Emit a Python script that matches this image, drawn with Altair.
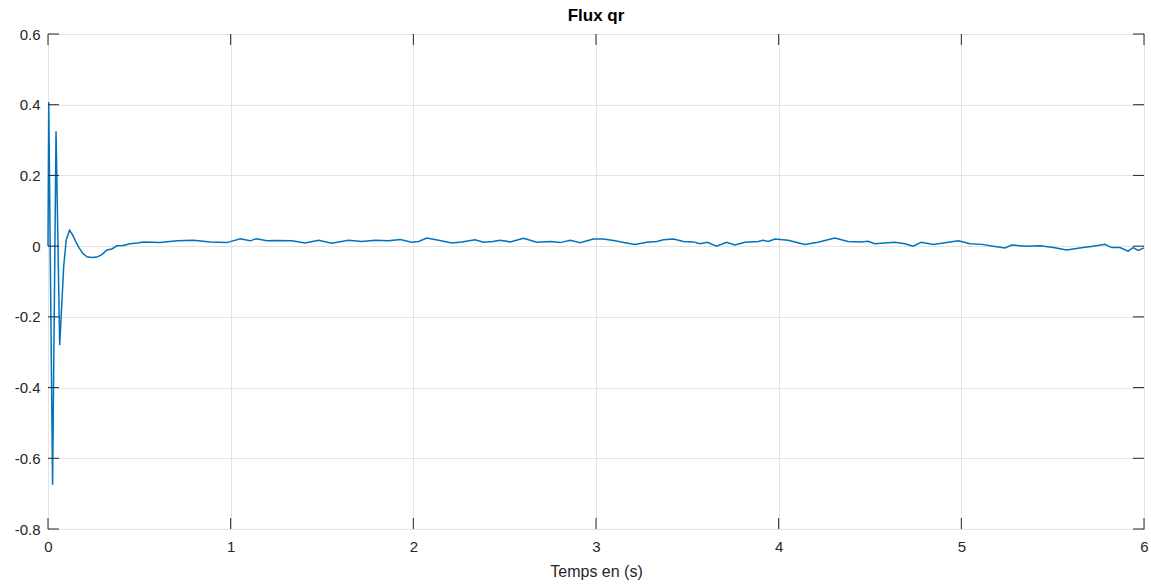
import altair as alt
import pandas as pd

# Rotor flux (q axis) against simulation time
time_s = [
    0.0, 0.004, 0.025, 0.044, 0.064, 0.075, 0.086, 0.1, 0.118, 0.135,
    0.15, 0.17, 0.19, 0.213, 0.24, 0.268, 0.295, 0.323, 0.35, 0.377,
    0.41, 0.45, 0.49, 0.523, 0.614, 0.706, 0.797, 0.888, 0.98, 1.053,
    1.107, 1.14, 1.199, 1.244, 1.335, 1.408, 1.481, 1.554, 1.645, 1.718,
    1.791, 1.864, 1.928, 1.992, 2.028, 2.074, 2.138, 2.211, 2.265, 2.338,
    2.384, 2.435, 2.476, 2.53, 2.603, 2.676, 2.749, 2.804, 2.859, 2.913,
    2.986, 3.041, 3.105, 3.151, 3.214, 3.278, 3.333, 3.369, 3.424, 3.479,
    3.534, 3.57, 3.61, 3.66, 3.715, 3.76, 3.815, 3.888, 3.915, 3.943,
    3.979, 4.052, 4.143, 4.216, 4.307, 4.38, 4.453, 4.49, 4.526, 4.581,
    4.636, 4.69, 4.736, 4.78, 4.847, 4.902, 4.984, 5.048, 5.111, 5.175,
    5.239, 5.276, 5.357, 5.431, 5.504, 5.576, 5.667, 5.722, 5.786, 5.823,
    5.868, 5.913, 5.941, 5.968, 6.0,
]
flux_qr = [
    0.0, 0.408, -0.675, 0.325, -0.28, -0.17, -0.057, 0.018, 0.045, 0.032,
    0.015, -0.005, -0.02, -0.03, -0.032, -0.031, -0.024, -0.011, -0.008, 0.001,
    0.002, 0.007, 0.009, 0.012, 0.010, 0.015, 0.0165, 0.012, 0.010, 0.021,
    0.015, 0.021, 0.015, 0.016, 0.015, 0.009, 0.0165, 0.008, 0.0165, 0.013,
    0.0165, 0.015, 0.019, 0.011, 0.013, 0.023, 0.0165, 0.009, 0.012, 0.018,
    0.011, 0.013, 0.0165, 0.012, 0.022, 0.011, 0.013, 0.010, 0.0165, 0.010,
    0.020, 0.020, 0.015, 0.010, 0.005, 0.011, 0.013, 0.018, 0.020, 0.013,
    0.012, 0.007, 0.011, 0.0, 0.011, 0.003, 0.011, 0.013, 0.0165, 0.013,
    0.020, 0.0165, 0.005, 0.011, 0.023, 0.013, 0.012, 0.014, 0.007, 0.009,
    0.011, 0.007, 0.0, 0.011, 0.005, 0.009, 0.015, 0.007, 0.005, 0.0,
    -0.005, 0.003, 0.0, 0.001, -0.004, -0.011, -0.004, 0.0, 0.005, -0.004,
    -0.004, -0.014, -0.004, -0.012, -0.005,
]

x_ticks = [0, 1, 2, 3, 4, 5, 6]
y_ticks = [-0.8, -0.6, -0.4, -0.2, 0, 0.2, 0.4, 0.6]

W, H = 1096, 495
TICK = 11
AXIS_COLOR = "#262626"
FONT = "Liberation Sans"

df = pd.DataFrame({"t": time_s, "v": flux_qr})
xt = pd.DataFrame({"t": x_ticks})
yt = pd.DataFrame({"v": y_ticks})

xs = alt.Scale(domain=[0, 6], nice=False, zero=False)
ys = alt.Scale(domain=[-0.8, 0.6], nice=False, zero=False)

x_axis = alt.Axis(
    values=x_ticks, grid=True, gridColor="#e3e3e3", ticks=False, domain=False,
    labelFont=FONT, labelFontSize=15, labelColor=AXIS_COLOR, labelPadding=10,
    labelExpr="'' + datum.value",
    title="Temps en (s)", titleFont=FONT, titleFontSize=16,
    titleFontWeight="normal", titleColor=AXIS_COLOR, titlePadding=9,
    labelFlush=False,
)
y_axis = alt.Axis(
    values=y_ticks, grid=True, gridColor="#e3e3e3", ticks=False, domain=False,
    labelFont=FONT, labelFontSize=15, labelColor=AXIS_COLOR, labelPadding=8,
    labelExpr="'' + datum.value", title=None, labelFlush=False,
)

line = alt.Chart(df).mark_line(color="#0072BD", strokeWidth=1.5).encode(
    x=alt.X("t:Q", scale=xs, axis=x_axis),
    y=alt.Y("v:Q", scale=ys, axis=y_axis),
)

# inward tick marks on all four sides of the box
left_ticks = alt.Chart(yt).mark_rule(color=AXIS_COLOR, strokeWidth=1).encode(
    y=alt.Y("v:Q", scale=ys), x=alt.value(0), x2=alt.value(TICK)
)
right_ticks = alt.Chart(yt).mark_rule(color=AXIS_COLOR, strokeWidth=1).encode(
    y=alt.Y("v:Q", scale=ys), x=alt.value(W - TICK), x2=alt.value(W)
)
bottom_ticks = alt.Chart(xt).mark_rule(color=AXIS_COLOR, strokeWidth=1).encode(
    x=alt.X("t:Q", scale=xs), y=alt.value(H - TICK), y2=alt.value(H)
)
top_ticks = alt.Chart(xt).mark_rule(color=AXIS_COLOR, strokeWidth=1).encode(
    x=alt.X("t:Q", scale=xs), y=alt.value(0), y2=alt.value(TICK)
)

chart = (
    alt.layer(line, left_ticks, right_ticks, bottom_ticks, top_ticks)
    .properties(
        width=W,
        height=H,
        title=alt.TitleParams(
            "Flux qr", font=FONT, fontSize=17, fontWeight="bold",
            color="#000000", offset=2, anchor="middle",
        ),
        autosize=alt.AutoSizeParams(type="none"),
        padding={"left": 48, "top": 34, "right": 7, "bottom": 58},
        background="white",
    )
    .configure_view(stroke=AXIS_COLOR, strokeWidth=1)
)

chart.save("out.html", embed_options={"renderer": "svg", "actions": False})
